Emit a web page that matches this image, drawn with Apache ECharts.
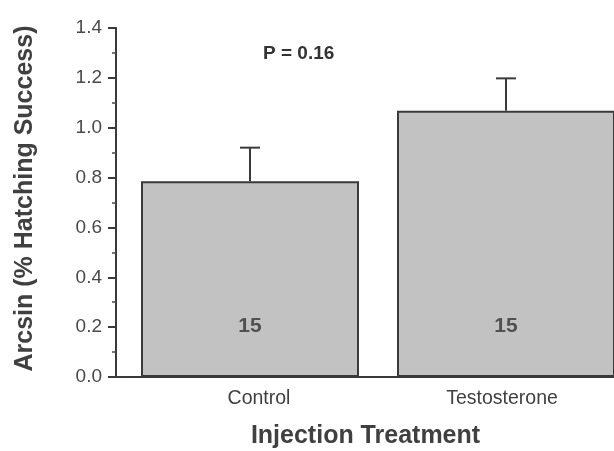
<!DOCTYPE html>
<html><head><meta charset="utf-8">
<script src="https://cdn.jsdelivr.net/npm/echarts@6/dist/echarts.min.js"></script>
<style>html,body{margin:0;padding:0;background:#fff}#c{width:614px;height:451px}</style>
</head><body><div id="c"></div>
<script>
var categories = ['Control', 'Testosterone'];
var means = [0.785, 1.068];
var errors = [0.135, 0.130];
var sampleSizes = ['15', '15'];
var labelLevel = [0.205, 0.205];
var yTicks = {min: 0, max: 1.4, interval: 0.2};
var pText = 'P = 0.16';

var chart = echarts.init(document.getElementById('c'), null, {renderer: 'canvas'});
var font = 'Liberation Sans, Arial, sans-serif';
var txt = '#404040';
chart.setOption({
  animation: false,
  backgroundColor: '#fff',
  grid: {left: 122, width: 512, top: 28, bottom: 74, containLabel: false, outerBoundsMode: 'none'},
  xAxis: {
    type: 'category', data: categories, boundaryGap: true,
    axisLine: {show: true, lineStyle: {color: '#3a3a3a', width: 2}},
    axisTick: {show: false},
    axisLabel: {color: txt, fontFamily: font, fontSize: 19.5, margin: 12,
      formatter: function (v, i) { return '{c' + i + '|' + v + '}'; },
      rich: {
        c0: {fontFamily: font, fontSize: 19.5, color: txt, padding: [0, 0, 0, 18]},
        c1: {fontFamily: font, fontSize: 19.5, color: txt, padding: [0, 8, 0, 0]}
      }},
    name: 'Injection Treatment', nameLocation: 'middle', nameGap: 47,
    nameTextStyle: {color: txt, fontFamily: font, fontSize: 25, fontWeight: 'bold', padding: [0, 25, 0, 0]}
  },
  yAxis: {
    type: 'value', min: yTicks.min, max: yTicks.max, interval: yTicks.interval, offset: 6,
    axisLine: {show: true, lineStyle: {color: '#3a3a3a', width: 2}},
    axisTick: {show: true, length: 8, lineStyle: {color: '#3a3a3a', width: 2}},
    minorTick: {show: true, splitNumber: 2, length: 4, lineStyle: {color: '#4a4a4a', width: 1.5}},
    splitLine: {show: false},
    axisLabel: {color: '#4a4a4a', fontFamily: font, fontSize: 19, margin: 14,
      formatter: function (v) { return v.toFixed(1); }},
    name: 'Arcsin (% Hatching Success)', nameLocation: 'middle', nameGap: 78,
    nameTextStyle: {color: txt, fontFamily: font, fontSize: 25, fontWeight: 'bold', padding: [0, 0, 0, 8]}
  },
  graphic: [
    {type: 'line', shape: {x1: 115, y1: 377, x2: 123, y2: 377}, style: {stroke: '#3a3a3a', lineWidth: 2}},
    {type: 'text', left: 263, top: 44, style: {text: pText, font: 'bold 19px ' + font, fill: '#333'}}
  ],
  series: [
    {
      type: 'bar', data: means, barWidth: 218,
      itemStyle: {color: '#c2c2c2', borderColor: '#3a3a3a', borderWidth: 2}
    },
    {
      type: 'custom',
      data: categories.map(function (c, i) { return [i, means[i], means[i] + errors[i]]; }),
      renderItem: function (params, api) {
        var lo = api.coord([api.value(0), api.value(1)]);
        var hi = api.coord([api.value(0), api.value(2)]);
        var st = {stroke: '#3a3a3a', lineWidth: 2};
        return {type: 'group', children: [
          {type: 'line', shape: {x1: lo[0], y1: lo[1], x2: hi[0], y2: hi[1]}, style: st},
          {type: 'line', shape: {x1: hi[0] - 10, y1: hi[1], x2: hi[0] + 10, y2: hi[1]}, style: st}
        ]};
      },
      z: 5
    },
    {
      type: 'scatter', symbolSize: 0,
      data: categories.map(function (c, i) { return [i, labelLevel[i]]; }),
      label: {show: true, position: 'inside', color: '#333', fontFamily: font, fontSize: 21, fontWeight: 'bold',
        formatter: function (p) { return sampleSizes[p.dataIndex]; }},
      z: 6
    }
  ]
});
</script></body></html>
